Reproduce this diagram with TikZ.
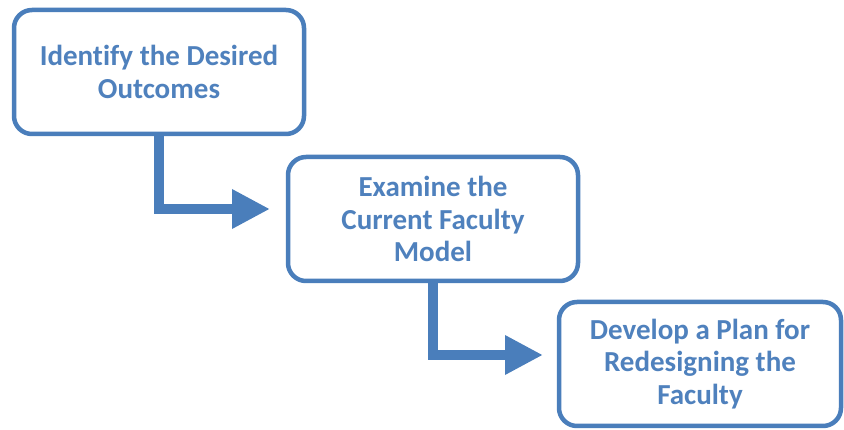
\documentclass[tikz,border=0pt]{standalone}
\usepackage{fontspec}
\setmainfont[Ligatures={NoCommon}]{Carlito}
\usetikzlibrary{arrows.meta}
\definecolor{flowblue}{HTML}{4A7EBB}
\definecolor{textblue}{HTML}{4F81BD}
\tikzset{
  stepbox/.style={draw=flowblue, line width=4.5pt, rounded corners=18pt, fill=white,
    minimum width=290pt, minimum height=124pt, align=center, text=textblue,
    font=\fontsize{29pt}{32.5pt}\selectfont\bfseries, inner sep=0pt},
  flow/.style={draw=flowblue, line width=10.5pt,
    -{Triangle[length=38pt,width=37pt]}}
}
\begin{document}
\begin{tikzpicture}[x=1pt,y=-1pt]
\useasboundingbox (0,0) rectangle (844,430);
\node[stepbox] (b1) at (159,72) {Identify the Desired\\Outcomes};
\node[stepbox] (b2) at (433,219) {Examine the\\Current Faculty\\Model};
\node[stepbox, minimum width=282pt] (b3) at (700,364) {Develop a Plan for\\Redesigning the\\Faculty};
\coordinate (t1) at (270,209);
\coordinate (t2) at (543,355);
\draw[flow] (b1.south) |- (t1);
\draw[flow] (b2.south) |- (t2);
\end{tikzpicture}
\end{document}
